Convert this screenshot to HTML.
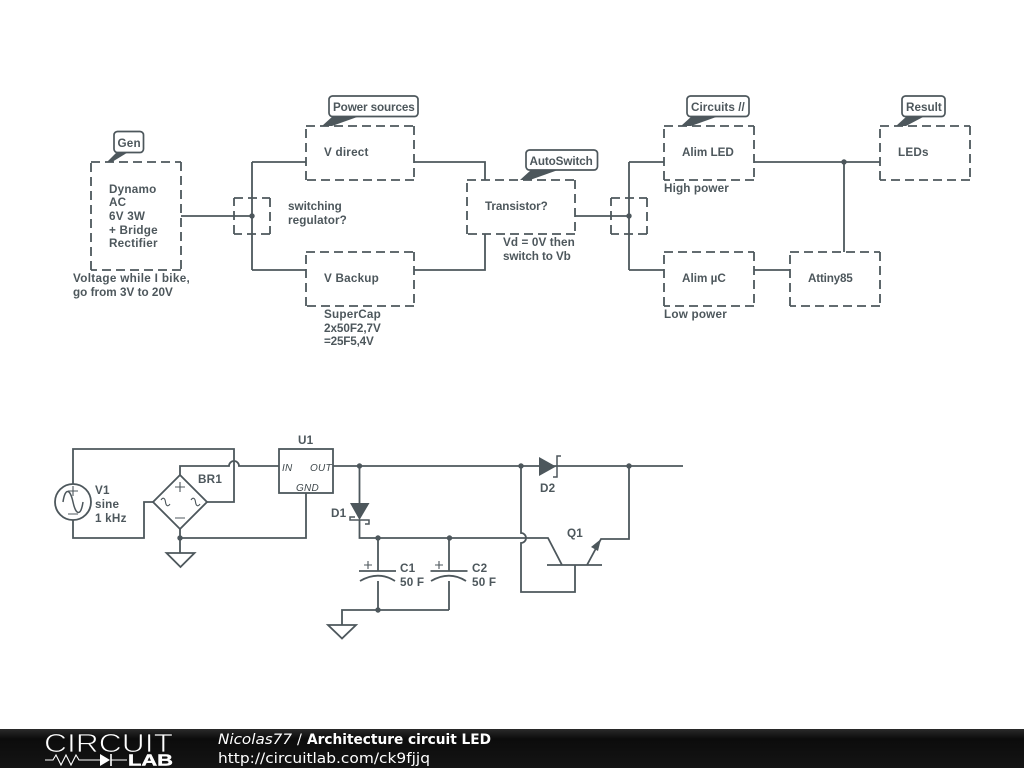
<!DOCTYPE html>
<html><head><meta charset="utf-8"><style>
html,body{margin:0;padding:0;background:#fff}
svg{display:block}
text{font-family:"Liberation Sans",sans-serif;font-weight:700;font-size:11.7px;fill:#4d575c;letter-spacing:.22px}
.w{fill:none;stroke:#4d575c;stroke-width:1.8}
.n{fill:none;stroke:#4d575c;stroke-width:1.1}
.d{fill:none;stroke:#4d575c;stroke-width:1.8;stroke-dasharray:9 5}
.t{fill:#4d575c;stroke:none}
.b{fill:#fff;stroke:#4d575c;stroke-width:1.7}
.i{font-style:italic;font-size:10px;font-weight:400;fill:#3f484c}
.f{font-family:"DejaVu Sans",sans-serif;font-size:14.5px;fill:#fff;letter-spacing:0;font-weight:400}
</style></head><body>
<svg width="1024" height="768" viewBox="0 0 1024 768" xmlns="http://www.w3.org/2000/svg">
<defs><linearGradient id="g" x1="0" y1="0" x2="0" y2="1"><stop offset="0" stop-color="#2a2a2a"/><stop offset=".25" stop-color="#0c0c0c"/><stop offset="1" stop-color="#141414"/></linearGradient></defs>
<rect width="1024" height="768" fill="#fff"/>
<!-- block wires -->
<path class="w" d="M181 216H252M252 162V270M252 162H306M252 270H306M414 162H485V180M414 270H485V234M575 216H629M629 162V270M629 162H664M629 270H664M754 162H880M844 162V252M754 270H790"/>
<g class="t"><circle cx="252" cy="216" r="2.700"/><circle cx="629" cy="216" r="2.700"/><circle cx="844" cy="162" r="2.700"/></g>
<!-- dashed boxes -->
<path class="d" d="M91 162H181M181 162V270M181 270H91M91 270V162"/>
<path class="d" d="M234 198H270M270 198V234M270 234H234M234 234V198"/>
<path class="d" d="M306 126H414M414 126V180M414 180H306M306 180V126"/>
<path class="d" d="M306 252H414M414 252V306M414 306H306M306 306V252"/>
<path class="d" d="M467 180H575M575 180V234M575 234H467M467 234V180"/>
<path class="d" d="M611 198H647M647 198V234M647 234H611M611 234V198"/>
<path class="d" d="M664 126H754M754 126V180M754 180H664M664 180V126"/>
<path class="d" d="M664 252H754M754 252V306M754 306H664M664 306V252"/>
<path class="d" d="M880 126H970M970 126V180M970 180H880M880 180V126"/>
<path class="d" d="M790 252H880M880 252V306M880 306H790M790 306V252"/>
<!-- callouts -->
<path class="t" d="M107 162L118 151H130L112 162Z"/>
<rect class="b" x="114" y="131.500" width="29.500" height="21" rx="3.500"/>
<text x="117.500" y="147">Gen</text>
<path class="t" d="M322 126L333 116H360L332 126Z"/>
<rect class="b" x="329" y="96" width="89" height="20.500" rx="3.500"/>
<text x="333" y="111" textLength="82">Power sources</text>
<path class="t" d="M520 180L531 170H558L530 180Z"/>
<rect class="b" x="526" y="150" width="71.500" height="20" rx="3.500"/>
<text x="529.500" y="165" textLength="63.500">AutoSwitch</text>
<path class="t" d="M681 126L692 116H719L691 126Z"/>
<rect class="b" x="687" y="96" width="62" height="20.500" rx="3.500"/>
<text x="691" y="111" textLength="54">Circuits //</text>
<path class="t" d="M896 126L907 116H925L906 126Z"/>
<rect class="b" x="902" y="96" width="43" height="20.500" rx="3.500"/>
<text x="906" y="111" textLength="36">Result</text>
<!-- block labels -->
<text x="109" y="193">Dynamo</text><text x="109" y="206">AC</text><text x="109" y="220">6V 3W</text><text x="109" y="234">+ Bridge</text><text x="109" y="247">Rectifier</text>
<text x="73" y="282" textLength="117">Voltage while I bike,</text><text x="73" y="296" textLength="100">go from 3V to 20V</text>
<text x="288" y="210" textLength="54">switching</text><text x="288" y="224" textLength="59">regulator?</text>
<text x="324" y="156">V direct</text><text x="324" y="282">V Backup</text>
<text x="324" y="318">SuperCap</text><text x="324" y="332" textLength="57">2x50F2,7V</text><text x="324" y="345" textLength="50">=25F5,4V</text>
<text x="485" y="210" textLength="63">Transistor?</text>
<text x="503" y="246" textLength="72">Vd = 0V then</text><text x="503" y="260" textLength="68">switch to Vb</text>
<text x="682" y="156" textLength="52">Alim LED</text><text x="664" y="192" textLength="65">High power</text>
<text x="682" y="282" textLength="44">Alim µC</text><text x="664" y="318" textLength="63">Low power</text>
<text x="808" y="282" textLength="45">Attiny85</text><text x="898" y="156">LEDs</text>
<!-- schematic left -->
<path class="w" d="M73 484V449H234V502H207M180 475V466H229A5 5 0 0 1 239 466H279M153 502H144V538H73V520M180 529V553M180 538H306V493"/>
<circle class="w" cx="73" cy="502" r="18"/>
<path class="n" style="stroke-width:1.500" d="M63 502C65 488 70 488 73 502S81 516 83 502"/>
<path class="n" d="M68 491H78M73 486V496M68 514H78"/>
<path class="w" d="M180 475L207 502L180 529L153 502Z"/>
<path class="n" d="M175 487H185M180 482V492M175 518H185M161 500C163 497 165 498 165.500 502C166 506 168 507 170 504M191 500C193 497 195 498 195.500 502C196 506 198 507 200 504"/>
<circle class="t" cx="180" cy="538" r="2.700"/>
<path class="w" d="M166.500 553H194.500L180.500 567Z"/>
<rect class="w" x="279" y="449" width="54" height="44"/>
<text x="95" y="494">V1</text><text x="95" y="508">sine</text><text x="95" y="522">1 kHz</text>
<text x="198" y="483">BR1</text><text x="298" y="444">U1</text>
<text class="i" x="282" y="471">IN</text><text class="i" x="310" y="471">OUT</text><text class="i" x="296" y="491">GND</text>
<!-- schematic right -->
<path class="w" d="M333 466H683M359.500 466V503M359.500 520V538H548L562 565M547 565H602M587 565L601 539H629V466M575 565V592H521V543A5 5 0 0 0 521 533V466"/>
<path class="t" d="M350 503H369.500L359.500 520Z"/>
<path class="w" style="stroke-width:1.500" d="M355 517H350V520H369V524H365"/>
<path class="t" d="M539 457V476L556 466.500Z"/>
<path class="w" style="stroke-width:1.500" d="M561 456H557V477H553"/>
<path class="t" d="M601 539L591 547L598 551Z"/>
<path class="w" d="M378 538V571M378 581V610M449 538V571M449 581V610M359 571H396M430.500 571H467.500M360 581C372 574 384 574 395 581M431 581C443 574 455 574 466 581M342 625V610H449"/>
<path class="n" d="M364 565H372M368 561V569M435 565H443M439 561V569"/>
<path class="w" d="M328 625H356L342 638.500Z"/>
<g class="t"><circle cx="359.500" cy="466" r="2.700"/><circle cx="521" cy="466" r="2.700"/><circle cx="629" cy="466" r="2.700"/><circle cx="378" cy="538" r="2.700"/><circle cx="449.500" cy="538" r="2.700"/><circle cx="378" cy="610" r="2.700"/></g>
<text x="331" y="517">D1</text><text x="540" y="492">D2</text><text x="567" y="537">Q1</text>
<text x="400" y="572">C1</text><text x="400" y="586">50 F</text><text x="472" y="572">C2</text><text x="472" y="586">50 F</text>
<!-- footer -->
<rect x="0" y="729" width="1024" height="39" fill="url(#g)"/>
<text x="44" y="752" textLength="129" lengthAdjust="spacingAndGlyphs" style="font-family:'Liberation Sans',sans-serif;font-weight:400;font-size:26px;fill:#fff;stroke:#111;stroke-width:.8;letter-spacing:0">CIRCUIT</text>
<path d="M45 760H53L56 755L61 765L66 755L71 765L76 755L79 760H100M111 760H127" fill="none" stroke="#fff" stroke-width="1.100"/>
<path d="M100 754V766L110 760Z" fill="#fff"/><path d="M111 754V766" stroke="#fff" stroke-width="1.600"/>
<text x="128" y="765.500" textLength="45" lengthAdjust="spacingAndGlyphs" style="font-family:'Liberation Sans',sans-serif;font-weight:700;font-size:15.500px;fill:#fff;stroke:#fff;stroke-width:.4;letter-spacing:0">LAB</text>
<text class="f" x="218" y="744" textLength="74" lengthAdjust="spacingAndGlyphs" style="font-style:italic">Nicolas77</text>
<text class="f" x="297" y="744">/</text>
<text class="f" x="307" y="744" textLength="184" lengthAdjust="spacingAndGlyphs" style="font-weight:700">Architecture circuit LED</text>
<text class="f" x="218" y="763" textLength="212" lengthAdjust="spacingAndGlyphs">http://circuitlab.com/ck9fjjq</text>
</svg>
</body></html>
